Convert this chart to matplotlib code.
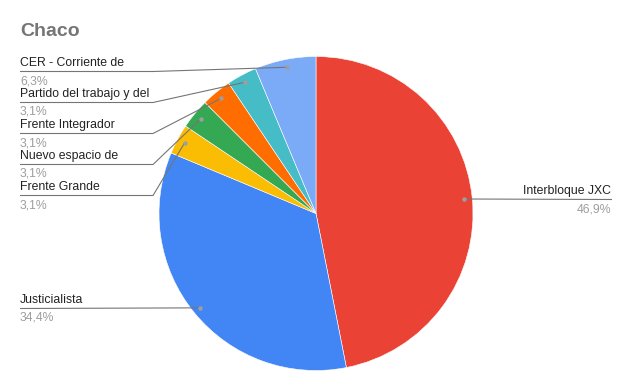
import numpy as np
import matplotlib.pyplot as plt

# slices, clockwise from 12 o'clock
labels = ["Interbloque JXC", "Justicialista", "Frente Grande", "Nuevo espacio de",
          "Frente Integrador", "Partido del trabajo y del", "CER - Corriente de"]
pcts = [46.9, 34.4, 3.1, 3.1, 3.1, 3.1, 6.3]
colors = ["#EA4335", "#4285F4", "#FBBC04", "#34A853", "#FF6D01", "#46BDC6", "#7BAAF7"]

plt.rcParams["font.family"] = ["Liberation Sans", "DejaVu Sans"]

W, H = 632, 391
fig = plt.figure(figsize=(W / 100, H / 100), dpi=100)
ax = fig.add_axes([0, 0, 1, 1])

cx, cy, R = 316, 213.5, 157
# y axis is inverted below, so counterclock=True draws clockwise on screen
ax.pie(pcts, colors=colors, center=(cx, cy), radius=R, startangle=-90,
       counterclock=True, wedgeprops=dict(edgecolor="white", linewidth=0.4))
ax.set_xlim(0, W)
ax.set_ylim(H, 0)
ax.set_aspect("auto")
ax.axis("off")

# label layout: (text x, text y, align)
lay = {
    "Interbloque JXC": (611, 191, "right"),
    "Justicialista": (20, 300, "left"),
    "Frente Grande": (20, 187, "left"),
    "Nuevo espacio de": (20, 156, "left"),
    "Frente Integrador": (20, 125, "left"),
    "Partido del trabajo y del": (20, 94, "left"),
    "CER - Corriente de": (20, 63, "left"),
}

fs = 8.8
line_c = "#757575"
cum = 0
for name, p in zip(labels, pcts):
    t = np.radians((cum + p / 2) / 100 * 360)
    cum += p
    dx = cx + 0.95 * R * np.sin(t)
    dy = cy - 0.95 * R * np.cos(t)
    tx, ty, ha = lay[name]
    ly = ty + 8.5
    if ha == "right":
        xs, ys = [dx, tx + 1], [dy, ly]
    elif name == "Justicialista":
        xs, ys = [tx, dx], [ly, dy]
    else:
        xs, ys = [tx, 153, dx], [ly, ly, dy]
    ax.plot(xs, ys, color=line_c, lw=0.8, solid_capstyle="butt")
    ax.plot(dx, dy, "o", ms=3.2, color="#9e9e9e", mec="none")
    ax.text(tx, ty, name, ha=ha, va="center", fontsize=fs, color="#222222")
    ax.text(tx, ty + 18, f"{p:.1f}%".replace(".", ","), ha=ha, va="center",
            fontsize=fs, color="#9e9e9e")

fig.text(20 / W, 1 - 32 / H, "Chaco", fontsize=14, fontweight="bold",
         color="#757575", va="center", ha="left")

fig.savefig("out.png", dpi=100)
